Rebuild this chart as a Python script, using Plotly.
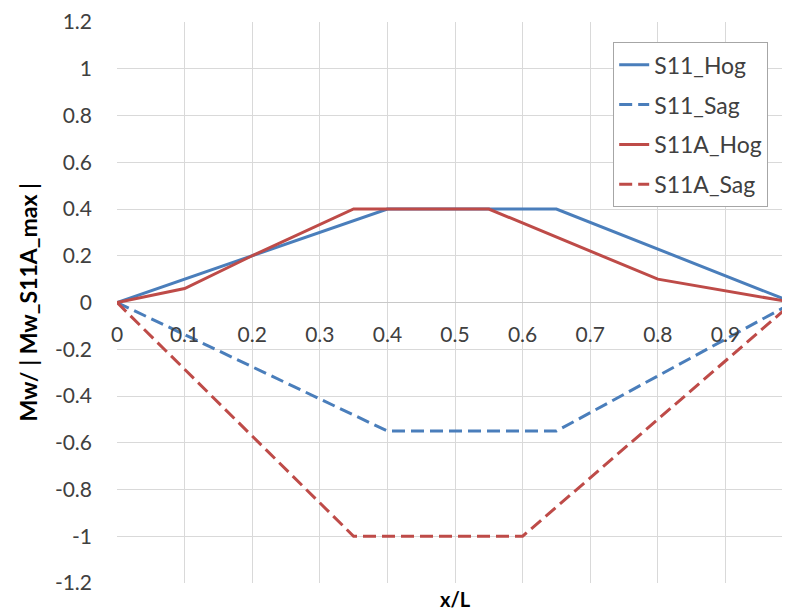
import plotly.graph_objects as go

x_s11_hog = [0, 0.1, 0.4, 0.65, 0.8, 1.0]
y_s11_hog = [0, 0.1, 0.4, 0.4, 0.23, 0]
x_s11_sag = [0, 0.4, 0.65, 1.0]
y_s11_sag = [0, -0.55, -0.55, 0]
x_s11a_hog = [0, 0.1, 0.2, 0.35, 0.55, 0.8, 1.0]
y_s11a_hog = [0, 0.06, 0.2, 0.4, 0.4, 0.1, 0]
x_s11a_sag = [0, 0.35, 0.6, 1.0]
y_s11a_sag = [0, -1.0, -1.0, 0]

x_ticks = [0, 0.1, 0.2, 0.3, 0.4, 0.5, 0.6, 0.7, 0.8, 0.9, 1]
x_ticklabels = ["0", "0.1", "0.2", "0.3", "0.4", "0.5", "0.6", "0.7", "0.8", "0.9", "1"]
y_ticks = [1.2, 1, 0.8, 0.6, 0.4, 0.2, 0, -0.2, -0.4, -0.6, -0.8, -1, -1.2]
y_ticklabels = ["1.2", "1", "0.8", "0.6", "0.4", "0.2", "0", "-0.2", "-0.4", "-0.6", "-0.8", "-1", "-1.2"]

BLUE = "#4A7EBB"
RED = "#BE4B48"
FONT = "Lato"
TXT = "#404040"
FS = 21
DASH = "13px,6px"

fig = go.Figure()
series = [
    ("S11_Hog", x_s11_hog, y_s11_hog, BLUE, "solid"),
    ("S11_Sag", x_s11_sag, y_s11_sag, BLUE, DASH),
    ("S11A_Hog", x_s11a_hog, y_s11a_hog, RED, "solid"),
    ("S11A_Sag", x_s11a_sag, y_s11a_sag, RED, DASH),
]
for name, xs, ys, col, dash in series:
    fig.add_trace(go.Scatter(x=xs, y=ys, name=name, mode="lines", legendgroup=name,
                             line=dict(color=col, width=3, dash=dash), cliponaxis=False))

# page body has an 8px default margin; size/margins compensate so the plot area
# lands at x 117..793 (slightly past the window edge, as in the reference), y 22..583
fig.update_layout(
    width=787, height=605,
    margin=dict(l=109, r=2, t=14, b=30),
    paper_bgcolor="white", plot_bgcolor="white",
    font=dict(family=FONT, size=FS, color=TXT),
    showlegend=True,
    legend=dict(x=0.734, y=0.964, xanchor="left", yanchor="top",
                bordercolor="#A6A6A6", borderwidth=1, bgcolor="white",
                font=dict(family=FONT, size=23, color=TXT),
                tracegroupgap=7, itemwidth=30),
    xaxis=dict(range=[0, 1], tickvals=x_ticks, ticktext=x_ticklabels,
               showgrid=True, gridcolor="#D9D9D9", gridwidth=1,
               zeroline=False, showline=False, ticks="",
               anchor="free", position=0.469, automargin=False,
               tickfont=dict(family=FONT, size=FS, color=TXT)),
    yaxis=dict(range=[-1.2, 1.2], tickvals=y_ticks, ticktext=y_ticklabels,
               showgrid=True, gridcolor="#D9D9D9", gridwidth=1,
               zeroline=True, zerolinecolor="#C8C8C8", zerolinewidth=1,
               showline=False, ticks="", ticklabelstandoff=24, automargin=False,
               tickfont=dict(family=FONT, size=FS, color=TXT)),
    annotations=[
        dict(text="<b>x/L</b>", x=0.5, y=0, xref="paper", yref="paper",
             yshift=-16, yanchor="middle", showarrow=False,
             font=dict(family=FONT, size=20, color="#000000")),
        dict(text="<b>Mw/ | Mw_S11A_max |</b>", x=0, y=0.5, xref="paper", yref="paper",
             xshift=-90, xanchor="center", yanchor="middle", textangle=-90, showarrow=False,
             font=dict(family=FONT, size=23, color="#000000")),
    ],
)
fig.add_shape(type="line", x0=1, x1=1, y0=-1.2, y1=1.2, xref="x", yref="y",
              line=dict(color="#D9D9D9", width=1), layer="below")

fig.write_html("out.html")
